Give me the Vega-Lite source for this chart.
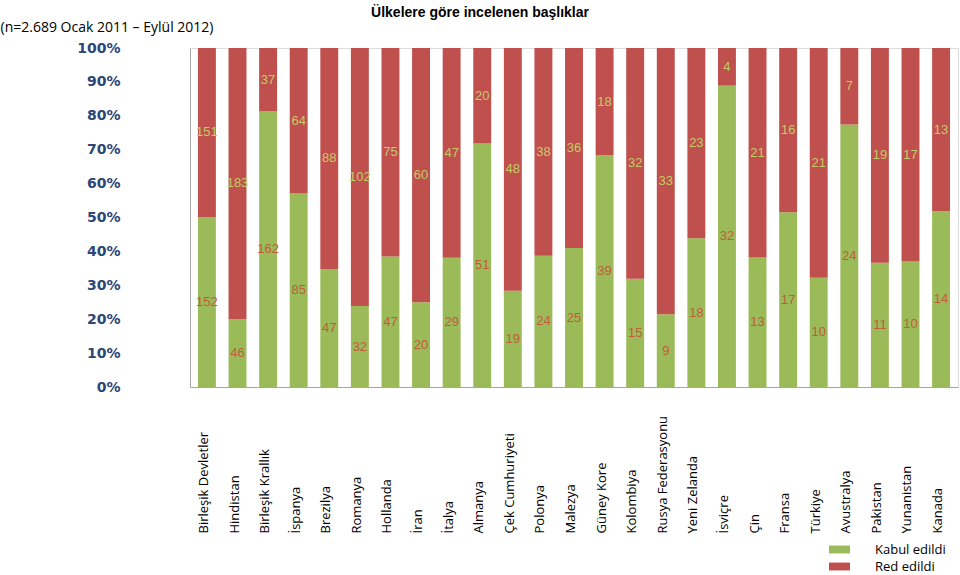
{
  "$schema": "https://vega.github.io/schema/vega-lite/v6.json",
  "width": 768,
  "height": 339,
  "autosize": {"type": "none"},
  "padding": {"left": 190, "top": 48, "right": 2, "bottom": 188},
  "background": "white",
  "title": {
    "text": "Ülkelere göre incelenen başlıklar",
    "anchor": "middle",
    "frame": "group",
    "dx": -94,
    "offset": 0,
    "font": "Liberation Sans",
    "fontSize": 14,
    "fontWeight": "bold",
    "color": "#000000"
  },
  "data": {
    "values": [
      {"ulke": "Birleşik Devletler", "durum": "Kabul edildi", "n": 152},
      {"ulke": "Birleşik Devletler", "durum": "Red edildi", "n": 151},
      {"ulke": "Hindistan", "durum": "Kabul edildi", "n": 46},
      {"ulke": "Hindistan", "durum": "Red edildi", "n": 183},
      {"ulke": "Birleşik Krallık", "durum": "Kabul edildi", "n": 162},
      {"ulke": "Birleşik Krallık", "durum": "Red edildi", "n": 37},
      {"ulke": "İspanya", "durum": "Kabul edildi", "n": 85},
      {"ulke": "İspanya", "durum": "Red edildi", "n": 64},
      {"ulke": "Brezilya", "durum": "Kabul edildi", "n": 47},
      {"ulke": "Brezilya", "durum": "Red edildi", "n": 88},
      {"ulke": "Romanya", "durum": "Kabul edildi", "n": 32},
      {"ulke": "Romanya", "durum": "Red edildi", "n": 102},
      {"ulke": "Hollanda", "durum": "Kabul edildi", "n": 47},
      {"ulke": "Hollanda", "durum": "Red edildi", "n": 75},
      {"ulke": "İran", "durum": "Kabul edildi", "n": 20},
      {"ulke": "İran", "durum": "Red edildi", "n": 60},
      {"ulke": "İtalya", "durum": "Kabul edildi", "n": 29},
      {"ulke": "İtalya", "durum": "Red edildi", "n": 47},
      {"ulke": "Almanya", "durum": "Kabul edildi", "n": 51},
      {"ulke": "Almanya", "durum": "Red edildi", "n": 20},
      {"ulke": "Çek Cumhuriyeti", "durum": "Kabul edildi", "n": 19},
      {"ulke": "Çek Cumhuriyeti", "durum": "Red edildi", "n": 48},
      {"ulke": "Polonya", "durum": "Kabul edildi", "n": 24},
      {"ulke": "Polonya", "durum": "Red edildi", "n": 38},
      {"ulke": "Malezya", "durum": "Kabul edildi", "n": 25},
      {"ulke": "Malezya", "durum": "Red edildi", "n": 36},
      {"ulke": "Güney Kore", "durum": "Kabul edildi", "n": 39},
      {"ulke": "Güney Kore", "durum": "Red edildi", "n": 18},
      {"ulke": "Kolombiya", "durum": "Kabul edildi", "n": 15},
      {"ulke": "Kolombiya", "durum": "Red edildi", "n": 32},
      {"ulke": "Rusya Federasyonu", "durum": "Kabul edildi", "n": 9},
      {"ulke": "Rusya Federasyonu", "durum": "Red edildi", "n": 33},
      {"ulke": "Yeni Zelanda", "durum": "Kabul edildi", "n": 18},
      {"ulke": "Yeni Zelanda", "durum": "Red edildi", "n": 23},
      {"ulke": "İsviçre", "durum": "Kabul edildi", "n": 32},
      {"ulke": "İsviçre", "durum": "Red edildi", "n": 4},
      {"ulke": "Çin", "durum": "Kabul edildi", "n": 13},
      {"ulke": "Çin", "durum": "Red edildi", "n": 21},
      {"ulke": "Fransa", "durum": "Kabul edildi", "n": 17},
      {"ulke": "Fransa", "durum": "Red edildi", "n": 16},
      {"ulke": "Türkiye", "durum": "Kabul edildi", "n": 10},
      {"ulke": "Türkiye", "durum": "Red edildi", "n": 21},
      {"ulke": "Avustralya", "durum": "Kabul edildi", "n": 24},
      {"ulke": "Avustralya", "durum": "Red edildi", "n": 7},
      {"ulke": "Pakistan", "durum": "Kabul edildi", "n": 11},
      {"ulke": "Pakistan", "durum": "Red edildi", "n": 19},
      {"ulke": "Yunanistan", "durum": "Kabul edildi", "n": 10},
      {"ulke": "Yunanistan", "durum": "Red edildi", "n": 17},
      {"ulke": "Kanada", "durum": "Kabul edildi", "n": 14},
      {"ulke": "Kanada", "durum": "Red edildi", "n": 13}
    ]
  },
  "transform": [
    {"stack": "n", "groupby": ["ulke"], "sort": [{"field": "durum", "order": "ascending"}], "offset": "normalize", "as": ["y0", "y1"]},
    {"calculate": "(datum.y0 + datum.y1) / 2", "as": "ymid"}
  ],
  "encoding": {
    "x": {
      "field": "ulke",
      "type": "nominal",
      "sort": null,
      "scale": {"paddingInner": 0.414, "paddingOuter": 0.26},
      "axis": {
        "title": null,
        "labelAngle": -90,
        "labelAlign": "left",
        "labelBaseline": "middle",
        "labelPadding": 146,
        "labelOffset": -3,
        "labelFont": "Open Sans",
        "labelFontSize": 13,
        "labelColor": "#000000",
        "labelLimit": 0,
        "labelOverlap": false,
        "ticks": false,
        "domainColor": "#A6A6A6",
        "domainWidth": 1
      }
    }
  },
  "layer": [
    {
      "mark": {"type": "bar"},
      "encoding": {
        "y": {
          "field": "y0",
          "type": "quantitative",
          "scale": {"domain": [0, 1], "nice": false},
          "axis": {
            "values": [0, 0.1, 0.2, 0.3, 0.4, 0.5, 0.6, 0.7, 0.8, 0.9, 1],
            "format": ".0%",
            "grid": false,
            "ticks": false,
            "labelOverlap": false,
            "labelFlush": false,
            "labelPadding": 70,
            "labelFont": "DejaVu Sans",
            "labelFontSize": 14,
            "labelFontWeight": "bold",
            "labelColor": "#2B4677",
            "domainColor": "#A6A6A6",
            "title": "(n=2.689 Ocak 2011 – Eylül 2012)",
            "titleAngle": 0,
            "titleX": -190,
            "titleY": -21,
            "titleAlign": "left",
            "titleBaseline": "middle",
            "titleFont": "Open Sans",
            "titleFontSize": 14,
            "titleFontWeight": "normal",
            "titleColor": "#000000"
          }
        },
        "y2": {"field": "y1"},
        "color": {
          "field": "durum",
          "type": "nominal",
          "scale": {"domain": ["Kabul edildi", "Red edildi"], "range": ["#9BBB59", "#C0504D"]},
          "legend": {
            "title": null,
            "orient": "none",
            "legendX": 643,
            "legendY": 495,
            "padding": 0,
            "symbolType": "M-2,-0.75H2V0.75H-2Z",
            "symbolSize": 110,
            "symbolStrokeWidth": 0,
            "labelOffset": 29,
            "rowPadding": 3,
            "labelFont": "Open Sans",
            "labelFontSize": 13,
            "labelColor": "#000000"
          }
        }
      }
    },
    {
      "mark": {"type": "text", "font": "Liberation Sans", "fontSize": 13, "baseline": "middle", "align": "center"},
      "encoding": {
        "y": {
          "field": "ymid",
          "type": "quantitative",
          "axis": {
            "values": [0, 0.1, 0.2, 0.3, 0.4, 0.5, 0.6, 0.7, 0.8, 0.9, 1],
            "format": ".0%",
            "grid": false,
            "ticks": false,
            "labelOverlap": false,
            "labelFlush": false,
            "labelPadding": 70,
            "labelFont": "DejaVu Sans",
            "labelFontSize": 14,
            "labelFontWeight": "bold",
            "labelColor": "#2B4677",
            "domainColor": "#A6A6A6",
            "title": "(n=2.689 Ocak 2011 – Eylül 2012)",
            "titleAngle": 0,
            "titleX": -190,
            "titleY": -21,
            "titleAlign": "left",
            "titleBaseline": "middle",
            "titleFont": "Open Sans",
            "titleFontSize": 14,
            "titleFontWeight": "normal",
            "titleColor": "#000000"
          }
        },
        "text": {"field": "n", "type": "quantitative"},
        "color": {
          "field": "durum",
          "type": "nominal",
          "scale": {"domain": ["Kabul edildi", "Red edildi"], "range": ["#C25A3C", "#C2CC66"]},
          "legend": null
        }
      }
    }
  ],
  "resolve": {"scale": {"color": "independent"}}
}
